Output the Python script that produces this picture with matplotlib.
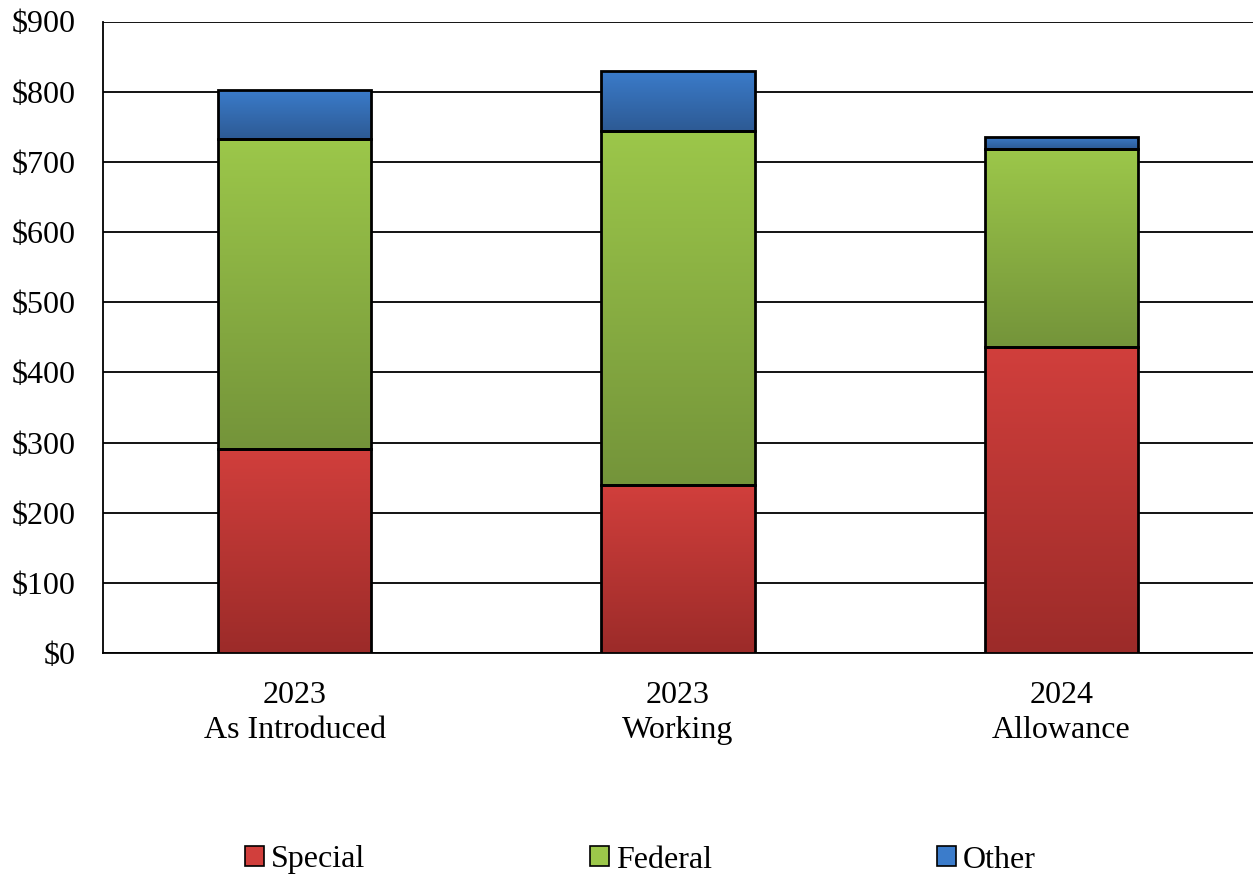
import matplotlib
matplotlib.use("Agg")
import matplotlib.pyplot as plt
import numpy as np
from matplotlib.colors import LinearSegmentedColormap
from matplotlib.patches import Patch

categories = ["2023\nAs Introduced", "2023\nWorking", "2024\nAllowance"]
special = [291, 239, 436]
federal = [441, 505, 282]
other = [70, 86, 18]
yticks = [0, 100, 200, 300, 400, 500, 600, 700, 800, 900]
ytick_labels = ["$0", "$100", "$200", "$300", "$400", "$500", "$600", "$700", "$800", "$900"]

series = [("Special", special, "#D13F3C", "#9C2B29"),
          ("Federal", federal, "#9CC74A", "#74943A"),
          ("Other", other, "#3B7CCB", "#2D5A94")]

plt.rcParams['font.family'] = ['Liberation Serif', 'DejaVu Serif']
plt.rcParams['font.size'] = 23

fig = plt.figure(figsize=(12.53, 8.74), dpi=100)
ax = fig.add_axes([103/1253, 1-653/874, 1150/1253, (653-21.5)/874])

x = np.arange(len(categories))
width = 0.4
bottom = np.zeros(len(categories))
for name, vals, top_c, bot_c in series:
    bars = ax.bar(x, vals, width, bottom=bottom, color="none", edgecolor="black",
                  linewidth=2, zorder=4)
    cmap = LinearSegmentedColormap.from_list(name, [bot_c, top_c])
    for b in bars:
        x0, y0 = b.get_x(), b.get_y()
        w, h = b.get_width(), b.get_height()
        grad = np.linspace(0, 1, 256).reshape(-1, 1)
        im = ax.imshow(grad, cmap=cmap, origin="lower", aspect="auto",
                       extent=[x0, x0 + w, y0, y0 + h], zorder=3)
        im.set_clip_path(b)
    bottom += np.array(vals)

ax.set_xlim(-0.5, 2.5)
ax.set_ylim(0, 900)
ax.set_yticks(yticks)
ax.set_yticklabels(ytick_labels)
ax.set_xticks(x)
ax.set_xticklabels(categories, linespacing=1.27)
ax.tick_params(axis="both", length=0)
ax.tick_params(axis="y", pad=20)
ax.tick_params(axis="x", pad=20)
ax.yaxis.grid(True, color="black", linewidth=1.3, zorder=1)
ax.set_axisbelow(True)
for s in ["top", "right"]:
    ax.spines[s].set_visible(False)
ax.spines["left"].set_linewidth(1.3)
ax.spines["bottom"].set_linewidth(1.3)

handles = [Patch(facecolor=top_c, edgecolor="black", linewidth=1.2, label=name)
           for name, _, top_c, _ in series]
fig.legend(handles=handles, loc="center", bbox_to_anchor=(0.511, 1 - 860/874), ncol=3,
           frameon=False, handlelength=0.6, handleheight=0.6, handletextpad=0.2,
           columnspacing=7.05, fontsize=23)

fig.savefig("out.png", dpi=100)
